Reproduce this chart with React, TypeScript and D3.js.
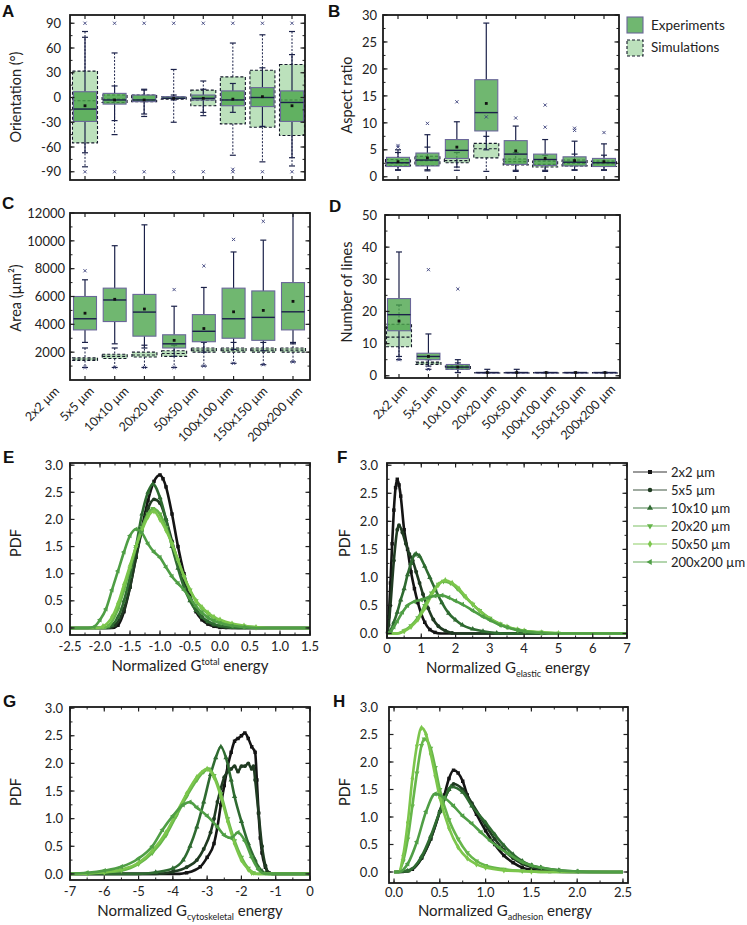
import React, { useEffect, useRef } from "react";
import * as d3 from "d3";

const categories = ["2x2 µm", "5x5 µm", "10x10 µm", "20x20 µm", "50x50 µm", "100x100 µm", "150x150 µm", "200x200 µm"];

// Box stats: experiments [lo, q1, median, q3, hi, mean]; simulations [lo, q1, median, q3, hi]
const orientExp = [[-67, -29, -14, 7, 73, -10], [-28, -8, -3, 5, 14, -3], [-20, -5, -3, 3, 9, -3], [-3, -1, -1, 1, 3, -1], [-18, -3, -1, 3, 10, -1], [-18, -10, -3, 8, 17, -2], [-35, -11, 0, 12, 36, 1], [-73, -29, -6, 8, 52, -10]];
const orientSim = [[-84, -55, -4, 32, 80], [-45, -6, -2, 3, 54], [-23, -5, -3, 3, 10], [-30, -2, -1, 1, 34], [-22, -10, -3, 9, 20], [-70, -32, -3, 25, 66], [-78, -36, 0, 33, 76], [-83, -46, -3, 40, 80]];
const orientOut = [[90, -90], [90, -90], [90, -90], [90, -90], [90, -90], [90, -90, -87], [90, -90], [90, -90]];

const aspectExp = [[1.2, 1.9, 2.6, 3.6, 5.0, 2.8], [1.1, 2.0, 3.1, 4.4, 7.8, 3.5], [1.8, 3.4, 4.9, 6.9, 10.2, 5.5], [5.0, 8.5, 11.9, 18.0, 28.5, 13.6], [1.2, 2.3, 4.2, 6.7, 9.4, 4.8], [1.2, 2.1, 3.2, 4.2, 6.9, 3.4], [1.3, 2.0, 2.7, 3.7, 6.6, 3.0], [1.3, 1.9, 2.6, 3.4, 6.1, 2.8]];
const aspectSim = [[1.3, 2.0, 2.5, 3.2, 4.5], [1.3, 2.1, 3.0, 3.8, 5.5], [1.2, 2.6, 3.0, 3.4, 4.5], [1.0, 3.5, 5.2, 6.2, 7.5], [1.0, 2.2, 2.8, 3.3, 4.5], [1.0, 1.8, 2.3, 2.9, 4.0], [1.2, 2.0, 2.5, 3.1, 4.2], [1.2, 1.9, 2.4, 2.9, 4.0]];
const aspectOut = [[5.5, 5.8], [9.9], [13.9], [11.1], [10.9], [9.2, 13.3], [8.6, 9.0], [8.2]];

const areaExp = [[2700, 3600, 4400, 6000, 7200, 4800], [2600, 4200, 5750, 6600, 9650, 5800], [2300, 3150, 4880, 6150, 11150, 5100], [1700, 2300, 2600, 3250, 5300, 2850], [2000, 2750, 3500, 4700, 6650, 3700], [2200, 3000, 4400, 6600, 9200, 4900], [2100, 2850, 4500, 6400, 10050, 5000], [2600, 3600, 4900, 7000, 12500, 5650]];
const areaSim = [[900, 1400, 1500, 1600, 2300], [900, 1550, 1700, 1850, 2300], [900, 1650, 1800, 2000, 2500], [900, 1700, 1900, 2100, 2500], [1000, 2000, 2150, 2300, 2700], [1200, 2000, 2150, 2300, 2700], [1100, 2000, 2150, 2300, 2700], [1300, 2000, 2150, 2300, 2700]];
const areaOut = [[7850, 900], [900], [900], [6500, 900], [8200, 1000], [10100, 1200], [11400, 1100], [1300]];

const linesExp = [[6, 14, 19, 24, 38.5, 17], [3, 5, 6, 7, 13, 6], [1, 2, 2.7, 3.5, 5, 2.7], [1, 1, 1, 1, 2, 1], [1, 1, 1, 1, 2, 1], [1, 1, 1, 1, 1, 1], [1, 1, 1, 1, 1, 1], [1, 1, 1, 1, 1, 1]];
const linesSim = [[5, 9, 12, 16, 22], [2, 3.5, 4, 4.3, 5], [1, 2, 2.5, 3, 4], [1, 1, 1, 1, 1], [1, 1, 1, 1, 1], [1, 1, 1, 1, 1], [1, 1, 1, 1, 1], [1, 1, 1, 1, 1]];
const linesOut = [[5], [33, 2], [27], [], [], [], [], []];

// PDF curves
const seriesNames = ["2x2 µm", "5x5 µm", "10x10 µm", "20x20 µm", "50x50 µm", "200x200 µm"];

const totalPdf = [
  [[-2.5, 0], [-1.8, 0], [-1.7, 0.05], [-1.6, 0.3], [-1.5, 0.75], [-1.4, 1.3], [-1.3, 1.85], [-1.2, 2.35], [-1.1, 2.7], [-1.0, 2.82], [-0.95, 2.75], [-0.9, 2.6], [-0.8, 2.1], [-0.7, 1.5], [-0.6, 1.0], [-0.5, 0.6], [-0.4, 0.3], [-0.3, 0.15], [-0.2, 0.07], [-0.1, 0.03], [0, 0.01], [0.2, 0], [1.5, 0]],
  [[-2.5, 0], [-1.85, 0], [-1.75, 0.05], [-1.6, 0.35], [-1.5, 0.75], [-1.4, 1.3], [-1.3, 1.8], [-1.2, 2.2], [-1.1, 2.37], [-1.0, 2.3], [-0.9, 2.0], [-0.8, 1.6], [-0.7, 1.2], [-0.6, 0.85], [-0.5, 0.55], [-0.4, 0.35], [-0.3, 0.2], [-0.2, 0.1], [-0.1, 0.05], [0.1, 0.01], [0.3, 0], [1.5, 0]],
  [[-2.5, 0], [-1.9, 0], [-1.8, 0.05], [-1.7, 0.2], [-1.6, 0.5], [-1.5, 0.95], [-1.4, 1.5], [-1.3, 2.1], [-1.2, 2.5], [-1.12, 2.65], [-1.0, 2.4], [-0.9, 2.0], [-0.8, 1.5], [-0.7, 1.1], [-0.6, 0.75], [-0.5, 0.5], [-0.4, 0.32], [-0.3, 0.2], [-0.2, 0.12], [-0.1, 0.07], [0, 0.04], [0.2, 0.01], [0.4, 0], [1.5, 0]],
  [[-2.5, 0], [-1.95, 0], [-1.85, 0.05], [-1.7, 0.35], [-1.6, 0.7], [-1.5, 1.1], [-1.4, 1.5], [-1.3, 1.85], [-1.2, 2.1], [-1.12, 2.2], [-1.0, 2.1], [-0.9, 1.85], [-0.8, 1.55], [-0.7, 1.25], [-0.6, 0.95], [-0.5, 0.7], [-0.4, 0.5], [-0.3, 0.36], [-0.2, 0.26], [-0.1, 0.18], [0, 0.13], [0.2, 0.06], [0.4, 0.03], [0.6, 0.01], [0.8, 0], [1.5, 0]],
  [[-2.5, 0], [-2.05, 0], [-1.95, 0.03], [-1.8, 0.2], [-1.7, 0.45], [-1.6, 0.8], [-1.5, 1.15], [-1.4, 1.5], [-1.3, 1.8], [-1.2, 2.05], [-1.1, 2.15], [-1.0, 2.0], [-0.9, 1.8], [-0.8, 1.55], [-0.7, 1.25], [-0.6, 0.95], [-0.5, 0.7], [-0.4, 0.5], [-0.3, 0.38], [-0.2, 0.28], [-0.1, 0.2], [0, 0.15], [0.2, 0.08], [0.4, 0.04], [0.6, 0.015], [0.8, 0], [1.5, 0]],
  [[-2.5, 0], [-2.2, 0], [-2.1, 0.02], [-2.0, 0.15], [-1.9, 0.35], [-1.8, 0.7], [-1.7, 1.05], [-1.6, 1.4], [-1.5, 1.7], [-1.4, 1.82], [-1.3, 1.75], [-1.2, 1.55], [-1.1, 1.4], [-1.0, 1.3], [-0.9, 1.12], [-0.8, 0.95], [-0.7, 0.82], [-0.6, 0.7], [-0.5, 0.55], [-0.4, 0.4], [-0.3, 0.28], [-0.2, 0.19], [-0.1, 0.13], [0, 0.09], [0.2, 0.04], [0.4, 0.015], [0.6, 0], [1.5, 0]],
];

const elasticPdf = [
  [[0, 0], [0.05, 0.3], [0.1, 0.9], [0.15, 1.6], [0.2, 2.2], [0.25, 2.6], [0.3, 2.75], [0.35, 2.65], [0.4, 2.45], [0.5, 1.85], [0.6, 1.5], [0.7, 1.1], [0.8, 0.8], [0.9, 0.55], [1.0, 0.35], [1.1, 0.2], [1.25, 0.07], [1.4, 0.02], [1.6, 0], [7, 0]],
  [[0, 0], [0.05, 0.15], [0.1, 0.5], [0.2, 1.3], [0.3, 1.85], [0.35, 1.93], [0.45, 1.8], [0.55, 1.6], [0.65, 1.42], [0.75, 1.3], [0.85, 1.1], [0.95, 0.9], [1.05, 0.7], [1.2, 0.45], [1.35, 0.25], [1.5, 0.13], [1.7, 0.05], [1.9, 0.01], [2.1, 0], [7, 0]],
  [[0, 0], [0.1, 0.05], [0.2, 0.2], [0.3, 0.38], [0.4, 0.6], [0.5, 0.8], [0.6, 1.05], [0.7, 1.25], [0.8, 1.4], [0.85, 1.42], [0.95, 1.38], [1.1, 1.2], [1.25, 1.0], [1.4, 0.8], [1.6, 0.55], [1.8, 0.36], [2.0, 0.24], [2.2, 0.15], [2.5, 0.08], [2.8, 0.04], [3.2, 0.01], [3.6, 0], [7, 0]],
  [[0, 0], [0.3, 0], [0.5, 0.05], [0.7, 0.14], [0.9, 0.28], [1.1, 0.5], [1.3, 0.72], [1.5, 0.88], [1.65, 0.93], [1.85, 0.9], [2.05, 0.8], [2.25, 0.67], [2.5, 0.52], [2.7, 0.41], [3.0, 0.27], [3.3, 0.17], [3.5, 0.12], [3.8, 0.07], [4.0, 0.05], [4.5, 0.02], [5, 0.005], [5.5, 0], [7, 0]],
  [[0, 0], [0.3, 0], [0.5, 0.04], [0.7, 0.12], [0.9, 0.25], [1.1, 0.45], [1.3, 0.68], [1.5, 0.87], [1.7, 0.95], [1.9, 0.9], [2.1, 0.8], [2.3, 0.65], [2.5, 0.52], [2.7, 0.4], [3.0, 0.26], [3.3, 0.16], [3.5, 0.12], [3.8, 0.07], [4.0, 0.05], [4.5, 0.02], [5, 0.005], [5.5, 0], [7, 0]],
  [[0, 0], [0.1, 0.03], [0.2, 0.12], [0.3, 0.22], [0.45, 0.38], [0.6, 0.5], [0.8, 0.57], [1.0, 0.6], [1.2, 0.64], [1.4, 0.67], [1.6, 0.68], [1.8, 0.64], [2.0, 0.58], [2.2, 0.52], [2.5, 0.41], [2.8, 0.3], [3.0, 0.24], [3.3, 0.15], [3.5, 0.11], [3.8, 0.06], [4.0, 0.04], [4.5, 0.01], [5, 0], [7, 0]],
];

const cytoPdf = [
  [[-7, 0], [-3.8, 0], [-3.6, 0.02], [-3.2, 0.13], [-3.0, 0.3], [-2.8, 0.55], [-2.7, 0.85], [-2.6, 1.25], [-2.5, 1.6], [-2.4, 1.95], [-2.3, 2.2], [-2.2, 2.4], [-2.1, 2.45], [-2.0, 2.5], [-1.9, 2.55], [-1.8, 2.45], [-1.7, 2.3], [-1.6, 2.2], [-1.55, 1.7], [-1.5, 1.1], [-1.45, 0.65], [-1.4, 0.38], [-1.3, 0.12], [-1.2, 0.02], [-1.1, 0], [0, 0]],
  [[-7, 0], [-4.5, 0], [-4.0, 0.04], [-3.6, 0.12], [-3.3, 0.25], [-3.1, 0.45], [-2.9, 0.75], [-2.8, 1.0], [-2.7, 1.3], [-2.6, 1.55], [-2.5, 1.75], [-2.4, 1.85], [-2.3, 1.9], [-2.2, 1.95], [-2.1, 1.85], [-2.0, 1.95], [-1.9, 1.95], [-1.8, 2.0], [-1.7, 1.9], [-1.65, 1.95], [-1.6, 1.7], [-1.5, 1.1], [-1.4, 0.5], [-1.3, 0.15], [-1.2, 0.02], [-1.1, 0], [0, 0]],
  [[-7, 0], [-5.0, 0], [-4.5, 0.03], [-4.0, 0.1], [-3.7, 0.25], [-3.5, 0.5], [-3.3, 0.85], [-3.1, 1.3], [-2.9, 1.8], [-2.75, 2.1], [-2.6, 2.3], [-2.45, 2.1], [-2.3, 1.7], [-2.2, 1.4], [-2.0, 0.95], [-1.8, 0.55], [-1.6, 0.25], [-1.5, 0.12], [-1.4, 0.05], [-1.3, 0.01], [-1.2, 0], [0, 0]],
  [[-7, 0], [-6.5, 0.01], [-6, 0.03], [-5.5, 0.06], [-5.0, 0.18], [-4.6, 0.38], [-4.2, 0.7], [-3.9, 1.05], [-3.6, 1.4], [-3.3, 1.7], [-3.1, 1.85], [-2.95, 1.9], [-2.8, 1.78], [-2.6, 1.45], [-2.4, 1.0], [-2.2, 0.6], [-2.0, 0.3], [-1.8, 0.1], [-1.65, 0.02], [-1.5, 0], [0, 0]],
  [[-7, 0], [-6.5, 0.01], [-6, 0.03], [-5.5, 0.08], [-5.0, 0.2], [-4.6, 0.42], [-4.2, 0.75], [-3.9, 1.1], [-3.6, 1.45], [-3.3, 1.75], [-3.0, 1.9], [-2.8, 1.75], [-2.6, 1.4], [-2.4, 0.95], [-2.2, 0.55], [-2.0, 0.25], [-1.8, 0.08], [-1.7, 0.02], [-1.6, 0], [0, 0]],
  [[-7, 0], [-6.5, 0.02], [-6, 0.06], [-5.5, 0.13], [-5.0, 0.28], [-4.6, 0.5], [-4.3, 0.8], [-4.0, 1.05], [-3.7, 1.25], [-3.5, 1.3], [-3.3, 1.2], [-3.0, 1.05], [-2.7, 0.85], [-2.5, 0.7], [-2.3, 0.65], [-2.1, 0.75], [-1.9, 0.6], [-1.7, 0.3], [-1.5, 0.08], [-1.3, 0], [0, 0]],
];

const adhesionPdf = [
  [[0, 0], [0.1, 0], [0.2, 0.05], [0.3, 0.25], [0.4, 0.6], [0.5, 1.1], [0.55, 1.4], [0.6, 1.7], [0.65, 1.85], [0.7, 1.8], [0.75, 1.65], [0.8, 1.4], [0.9, 1.05], [1.0, 0.75], [1.1, 0.5], [1.2, 0.3], [1.3, 0.17], [1.4, 0.08], [1.5, 0.04], [1.7, 0.01], [2.0, 0], [2.5, 0]],
  [[0, 0], [0.15, 0.02], [0.3, 0.25], [0.4, 0.6], [0.5, 1.1], [0.6, 1.5], [0.65, 1.6], [0.75, 1.5], [0.85, 1.25], [1.0, 0.85], [1.1, 0.6], [1.2, 0.4], [1.3, 0.25], [1.4, 0.15], [1.5, 0.09], [1.7, 0.03], [2.0, 0], [2.5, 0]],
  [[0, 0], [0.15, 0.02], [0.3, 0.28], [0.4, 0.65], [0.5, 1.1], [0.6, 1.5], [0.62, 1.55], [0.75, 1.45], [0.85, 1.2], [1.0, 0.9], [1.1, 0.68], [1.2, 0.48], [1.3, 0.32], [1.4, 0.2], [1.5, 0.12], [1.6, 0.08], [1.8, 0.03], [2.0, 0.01], [2.5, 0]],
  [[0, 0], [0.05, 0], [0.1, 0.2], [0.15, 0.6], [0.2, 1.2], [0.25, 1.8], [0.3, 2.3], [0.33, 2.42], [0.4, 2.25], [0.45, 1.9], [0.5, 1.5], [0.6, 0.95], [0.7, 0.6], [0.8, 0.35], [0.9, 0.2], [1.0, 0.12], [1.2, 0.05], [1.4, 0.02], [1.6, 0], [2.5, 0]],
  [[0, 0], [0.05, 0], [0.1, 0.3], [0.15, 0.9], [0.2, 1.7], [0.25, 2.3], [0.3, 2.62], [0.35, 2.5], [0.4, 2.15], [0.45, 1.75], [0.5, 1.35], [0.6, 0.8], [0.7, 0.45], [0.8, 0.25], [0.9, 0.14], [1.0, 0.08], [1.2, 0.03], [1.5, 0.01], [1.7, 0], [2.5, 0]],
  [[0, 0], [0.05, 0], [0.15, 0.15], [0.25, 0.55], [0.35, 1.1], [0.45, 1.42], [0.55, 1.35], [0.65, 1.2], [0.75, 1.02], [0.85, 0.88], [0.95, 0.72], [1.05, 0.57], [1.15, 0.44], [1.25, 0.33], [1.4, 0.18], [1.5, 0.12], [1.6, 0.08], [1.8, 0.03], [2.0, 0.01], [2.2, 0], [2.5, 0]],
];

const FONT = "Lato, 'Open Sans', Arial, sans-serif";
const NAVY = "#1b2149";
const EXP_FILL = "rgba(72,163,72,0.78)";
const EXP_STROKE = "#6a6799";
const SIM_FILL = "rgba(165,215,165,0.75)";
const SIM_STROKE = "#15192b";
const seriesColors = ["#141414", "#203b22", "#2f6b31", "#66b64a", "#7cc64c", "#4f9e45"];
const symbols = [d3.symbolSquare, d3.symbolCircle, d3.symbolTriangle, d3.symbolTriangle, d3.symbolDiamond, d3.symbolTriangle];
const symbolRot = [0, 0, 0, 180, 0, -90];

const fmtNum = (f: string) => {
  const ff = d3.format(f);
  return (v: number) => ff(v).replace("\u2212", "-");
};

type Sel = d3.Selection<any, any, any, any>;

function xMarker(g: Sel, cx: number, cy: number, s = 1.6) {
  g.append("path")
    .attr("d", `M${cx - s},${cy - s}L${cx + s},${cy + s}M${cx - s},${cy + s}L${cx + s},${cy - s}`)
    .attr("stroke", "#3a3f7a").attr("stroke-width", 0.9).attr("fill", "none");
}

function yTicks(g: Sel, y: d3.ScaleLinear<number, number>, left: number, right: number, majors: number[], minors: number[], fmt: (v: number) => string, gap: number, showLabel: (v: number) => boolean) {
  minors.forEach(v => {
    g.append("line").attr("x1", left).attr("x2", left + 2.5).attr("y1", y(v)).attr("y2", y(v)).attr("stroke", "#222").attr("stroke-width", 1);
    g.append("line").attr("x1", right).attr("x2", right - 2.5).attr("y1", y(v)).attr("y2", y(v)).attr("stroke", "#222").attr("stroke-width", 1);
  });
  majors.forEach(v => {
    g.append("line").attr("x1", left).attr("x2", left + 4.5).attr("y1", y(v)).attr("y2", y(v)).attr("stroke", "#222").attr("stroke-width", 1.2);
    g.append("line").attr("x1", right).attr("x2", right - 4.5).attr("y1", y(v)).attr("y2", y(v)).attr("stroke", "#222").attr("stroke-width", 1.2);
    if (showLabel(v)) {
      g.append("text").attr("x", left - gap).attr("y", y(v)).attr("dy", "0.36em").attr("text-anchor", "end")
        .attr("font-family", FONT).attr("font-size", 13).attr("fill", "#222").text(fmt(v));
    }
  });
}

function frame(g: Sel, l: number, t: number, r: number, b: number) {
  g.append("rect").attr("x", l).attr("y", t).attr("width", r - l).attr("height", b - t)
    .attr("fill", "none").attr("stroke", "#1a1a1a").attr("stroke-width", 1.8);
}

function yTitle(g: Sel, text: string, x: number, y: number, size = 14.5) {
  g.append("text").attr("transform", `translate(${x},${y}) rotate(-90)`).attr("text-anchor", "middle")
    .attr("font-family", FONT).attr("font-size", size).attr("fill", "#222").text(text);
}

function panelLetter(g: Sel, text: string, x: number, y: number) {
  g.append("text").attr("x", x).attr("y", y).attr("font-family", "Arial, 'Liberation Sans', sans-serif")
    .attr("font-weight", "bold").attr("font-size", 17).attr("fill", "#111").text(text);
}

interface BoxOpts {
  left: number; right: number; top: number; bottom: number;
  domain: [number, number]; catRange: [number, number];
  exp: number[][]; sim: number[][]; out: number[][];
  majors: number[]; minors: number[]; fmt: (v: number) => string; gap: number;
  showLabel?: (v: number) => boolean;
  labelRange?: [number, number];
}

function boxPanel(svg: Sel, o: BoxOpts) {
  const g = svg.append("g");
  const y = d3.scaleLinear().domain(o.domain).range([o.bottom, o.top]).clamp(true);
  const x = d3.scalePoint<string>().domain(categories).range(o.catRange);
  const bw = 23;
  const cap = 3;
  const whisk = (cx: number, a: number, b: number, dashed: boolean) => {
    const l = g.append("line").attr("x1", cx).attr("x2", cx).attr("y1", y(a)).attr("y2", y(b))
      .attr("stroke", NAVY).attr("stroke-width", dashed ? 1 : 1.2);
    if (dashed) l.attr("stroke-dasharray", "2,1.5");
  };
  const capLine = (cx: number, v: number) => {
    if (v > o.domain[1]) return;
    g.append("line").attr("x1", cx - cap).attr("x2", cx + cap).attr("y1", y(v)).attr("y2", y(v))
      .attr("stroke", NAVY).attr("stroke-width", 1.2);
  };
  o.sim.forEach((s, i) => {
    const cx = x(categories[i])!;
    const [lo, q1, md, q3, hi] = s;
    whisk(cx, hi, q3, true);
    whisk(cx, q1, lo, true);
    capLine(cx, hi); capLine(cx, lo);
    g.append("rect").attr("x", cx - bw / 2 - 1).attr("y", y(q3)).attr("width", bw + 2).attr("height", Math.max(0.5, y(q1) - y(q3)))
      .attr("fill", SIM_FILL).attr("stroke", SIM_STROKE).attr("stroke-width", 1.1).attr("stroke-dasharray", "3,2");
    g.append("line").attr("x1", cx - bw / 2 - 1).attr("x2", cx + bw / 2 + 1).attr("y1", y(md)).attr("y2", y(md))
      .attr("stroke", SIM_STROKE).attr("stroke-width", 1.1).attr("stroke-dasharray", "3,2");
  });
  o.exp.forEach((s, i) => {
    const cx = x(categories[i])!;
    const [lo, q1, md, q3, hi, mean] = s;
    whisk(cx, hi, q3, false);
    whisk(cx, q1, lo, false);
    capLine(cx, hi); capLine(cx, lo);
    g.append("rect").attr("x", cx - bw / 2).attr("y", y(q3)).attr("width", bw).attr("height", Math.max(0.5, y(q1) - y(q3)))
      .attr("fill", EXP_FILL).attr("stroke", EXP_STROKE).attr("stroke-width", 1.1);
    g.append("line").attr("x1", cx - bw / 2).attr("x2", cx + bw / 2).attr("y1", y(md)).attr("y2", y(md))
      .attr("stroke", NAVY).attr("stroke-width", 1.4);
    g.append("rect").attr("x", cx - 1.4).attr("y", y(mean) - 1.4).attr("width", 2.8).attr("height", 2.8).attr("fill", "#111");
  });
  o.out.forEach((arr, i) => {
    const cx = x(categories[i])!;
    arr.forEach(v => xMarker(g, cx, y(v)));
  });
  yTicks(g, y, o.left, o.right, o.majors, o.minors, o.fmt, o.gap, o.showLabel || (() => true));
  categories.forEach(c => {
    const cx = x(c)!;
    g.append("line").attr("x1", cx).attr("x2", cx).attr("y1", o.top).attr("y2", o.top + 4).attr("stroke", "#222").attr("stroke-width", 1.2);
    g.append("line").attr("x1", cx).attr("x2", cx).attr("y1", o.bottom).attr("y2", o.bottom - 4).attr("stroke", "#222").attr("stroke-width", 1.2);
  });
  frame(g, o.left, o.top, o.right, o.bottom);
  if (o.labelRange) {
    const xl = d3.scalePoint<string>().domain(categories).range(o.labelRange);
    categories.forEach(c => {
      g.append("text").attr("transform", `translate(${xl(c)},${o.bottom + 9}) rotate(-45)`)
        .attr("text-anchor", "end").attr("dy", "0.35em")
        .attr("font-family", FONT).attr("font-size", 12.5).attr("fill", "#222").text(c);
    });
  }
}

interface CurveOpts {
  left: number; right: number; top: number; bottom: number;
  xDomain: [number, number]; yDomain: [number, number];
  data: number[][][];
  xMajors: number[]; xMinors: number[]; xFmt: (v: number) => string;
  gap: number; xLabelY: number;
}

function curvePanel(svg: Sel, o: CurveOpts) {
  const g = svg.append("g");
  const x = d3.scaleLinear().domain(o.xDomain).range([o.left, o.right]);
  const y = d3.scaleLinear().domain(o.yDomain).range([o.bottom, o.top]);
  const line = d3.line<number[]>().x(d => x(d[0])).y(d => y(d[1])).curve(d3.curveMonotoneX);
  o.data.forEach((s, i) => {
    g.append("path").attr("d", line(s)!).attr("fill", "none").attr("stroke", seriesColors[i])
      .attr("stroke-width", 2.6).attr("stroke-linejoin", "round");
    const sym = d3.symbol().type(symbols[i]).size(12);
    s.filter(d => d[1] > 0.003).forEach(d => {
      g.append("path").attr("d", sym()!)
        .attr("transform", `translate(${x(d[0])},${y(d[1])}) rotate(${symbolRot[i]})`)
        .attr("fill", seriesColors[i]);
    });
  });
  const yMaj = d3.range(0, 3.01, 0.5);
  const yMin = d3.range(0, 3.01, 0.25);
  yTicks(g, y, o.left, o.right, yMaj, yMin, fmtNum(".1f"), o.gap, () => true);
  o.xMinors.forEach(v => {
    g.append("line").attr("x1", x(v)).attr("x2", x(v)).attr("y1", o.bottom).attr("y2", o.bottom - 2.5).attr("stroke", "#222");
    g.append("line").attr("x1", x(v)).attr("x2", x(v)).attr("y1", o.top).attr("y2", o.top + 2.5).attr("stroke", "#222");
  });
  o.xMajors.forEach(v => {
    g.append("line").attr("x1", x(v)).attr("x2", x(v)).attr("y1", o.bottom).attr("y2", o.bottom - 4.5).attr("stroke", "#222").attr("stroke-width", 1.2);
    g.append("line").attr("x1", x(v)).attr("x2", x(v)).attr("y1", o.top).attr("y2", o.top + 4.5).attr("stroke", "#222").attr("stroke-width", 1.2);
    g.append("text").attr("x", x(v)).attr("y", o.xLabelY).attr("text-anchor", "middle")
      .attr("font-family", FONT).attr("font-size", 13).attr("fill", "#222").text(o.xFmt(v));
  });
  frame(g, o.left, o.top, o.right, o.bottom);
}

function xTitle(svg: Sel, cx: number, y: number, sub: string, sup: boolean) {
  const t = svg.append("text").attr("x", cx).attr("y", y).attr("text-anchor", "middle")
    .attr("font-family", FONT).attr("font-size", 15).attr("fill", "#222");
  t.append("tspan").text("Normalized G");
  t.append("tspan").attr("font-size", 9).attr("dy", sup ? -6 : 4).text(sub);
  t.append("tspan").attr("dy", sup ? 6 : -4).text(" energy");
}

function draw(svg: Sel) {
  boxPanel(svg, {
    left: 70, right: 305, top: 15, bottom: 180, domain: [-100, 100], catRange: [85, 292],
    exp: orientExp, sim: orientSim, out: orientOut,
    majors: d3.range(-90, 91, 30), minors: d3.range(-90, 91, 15), fmt: fmtNum("d"), gap: 9,
  });
  boxPanel(svg, {
    left: 383, right: 619, top: 15, bottom: 180, domain: [-0.6, 30], catRange: [398, 604],
    exp: aspectExp, sim: aspectSim, out: aspectOut,
    majors: d3.range(0, 31, 5), minors: d3.range(0, 31, 2.5), fmt: fmtNum("d"), gap: 6,
  });
  boxPanel(svg, {
    left: 70, right: 310, top: 213, bottom: 380, domain: [0, 12000], catRange: [85, 293],
    exp: areaExp, sim: areaSim, out: areaOut,
    majors: d3.range(2000, 12001, 2000), minors: d3.range(1000, 12000, 1000), fmt: fmtNum("d"), gap: 5,
    labelRange: [57, 300],
  });
  boxPanel(svg, {
    left: 385, right: 620, top: 215, bottom: 378, domain: [-0.7, 50], catRange: [399, 605],
    exp: linesExp, sim: linesSim, out: linesOut,
    majors: d3.range(0, 51, 10), minors: d3.range(0, 51, 5), fmt: fmtNum("d"), gap: 8,
    labelRange: [405, 613],
  });

  yTitle(svg, "Orientation (°)", 21, 97);
  yTitle(svg, "Aspect ratio", 352, 95);
  yTitle(svg, "Area (µm²)", 21, 298);
  yTitle(svg, "Number of lines", 352, 292);

  const lg = svg.append("g");
  lg.append("rect").attr("x", 627).attr("y", 17).attr("width", 16).attr("height", 16).attr("fill", EXP_FILL).attr("stroke", EXP_STROKE).attr("stroke-width", 1.1);
  lg.append("rect").attr("x", 627).attr("y", 40).attr("width", 16).attr("height", 16).attr("fill", SIM_FILL).attr("stroke", SIM_STROKE).attr("stroke-width", 1.1).attr("stroke-dasharray", "3,2");
  lg.append("text").attr("x", 651).attr("y", 30).attr("font-family", FONT).attr("font-size", 13.5).attr("fill", "#222").text("Experiments");
  lg.append("text").attr("x", 651).attr("y", 52).attr("font-family", FONT).attr("font-size", 13.5).attr("fill", "#222").text("Simulations");

  curvePanel(svg, {
    left: 70, right: 310, top: 463, bottom: 635, xDomain: [-2.5, 1.5], yDomain: [-0.13, 3.04],
    data: totalPdf, xMajors: d3.range(-2.5, 1.51, 0.5), xMinors: d3.range(-2.5, 1.51, 0.25), xFmt: fmtNum(".1f"),
    gap: 7, xLabelY: 651,
  });
  curvePanel(svg, {
    left: 387, right: 627, top: 463, bottom: 638, xDomain: [0, 7], yDomain: [-0.08, 3.04],
    data: elasticPdf, xMajors: d3.range(0, 7.01, 1), xMinors: d3.range(0, 7.01, 0.5), xFmt: fmtNum("d"),
    gap: 9, xLabelY: 653,
  });
  curvePanel(svg, {
    left: 70, right: 310, top: 707, bottom: 880, xDomain: [-7, 0], yDomain: [-0.11, 3.02],
    data: cytoPdf, xMajors: d3.range(-7, 0.01, 1), xMinors: d3.range(-7, 0.01, 0.5), xFmt: fmtNum("d"),
    gap: 7, xLabelY: 896,
  });
  curvePanel(svg, {
    left: 389, right: 628, top: 707, bottom: 883, xDomain: [-0.055, 2.555], yDomain: [-0.2, 3.0],
    data: adhesionPdf, xMajors: d3.range(0, 2.51, 0.5), xMinors: d3.range(0, 2.51, 0.25), xFmt: fmtNum(".1f"),
    gap: 11, xLabelY: 897,
  });

  yTitle(svg, "PDF", 21, 543);
  yTitle(svg, "PDF", 350, 543);
  yTitle(svg, "PDF", 21, 792);
  yTitle(svg, "PDF", 350, 792);

  xTitle(svg, 190, 671, "total", true);
  xTitle(svg, 508, 673, "elastic", false);
  xTitle(svg, 190, 916, "cytoskeletal", false);
  xTitle(svg, 505, 916, "adhesion", false);

  const fl = svg.append("g");
  seriesNames.forEach((n, i) => {
    const yy = 472 + i * 18;
    fl.append("line").attr("x1", 633).attr("x2", 667).attr("y1", yy).attr("y2", yy).attr("stroke", seriesColors[i]).attr("stroke-width", 1.1).attr("opacity", 0.85);
    fl.append("path").attr("d", d3.symbol().type(symbols[i]).size(16)()!)
      .attr("transform", `translate(650,${yy}) rotate(${symbolRot[i]})`).attr("fill", seriesColors[i]);
    fl.append("text").attr("x", 671).attr("y", yy).attr("dy", "0.36em").attr("font-family", FONT).attr("font-size", 13).attr("fill", "#222").text(n);
  });

  panelLetter(svg, "A", 2, 17);
  panelLetter(svg, "B", 328, 17);
  panelLetter(svg, "C", 2, 209);
  panelLetter(svg, "D", 329, 212);
  panelLetter(svg, "E", 3, 463);
  panelLetter(svg, "F", 337, 463);
  panelLetter(svg, "G", 3, 707);
  panelLetter(svg, "H", 333, 707);
}

export default function App() {
  const ref = useRef<SVGSVGElement>(null);
  useEffect(() => {
    const svg = d3.select(ref.current as SVGSVGElement);
    svg.selectAll("*").remove();
    draw(svg as any);
  }, []);
  return (
    <svg ref={ref} width={747} height={925} style={{ position: "absolute", left: 0, top: 0, background: "#fff" }} />
  );
}
